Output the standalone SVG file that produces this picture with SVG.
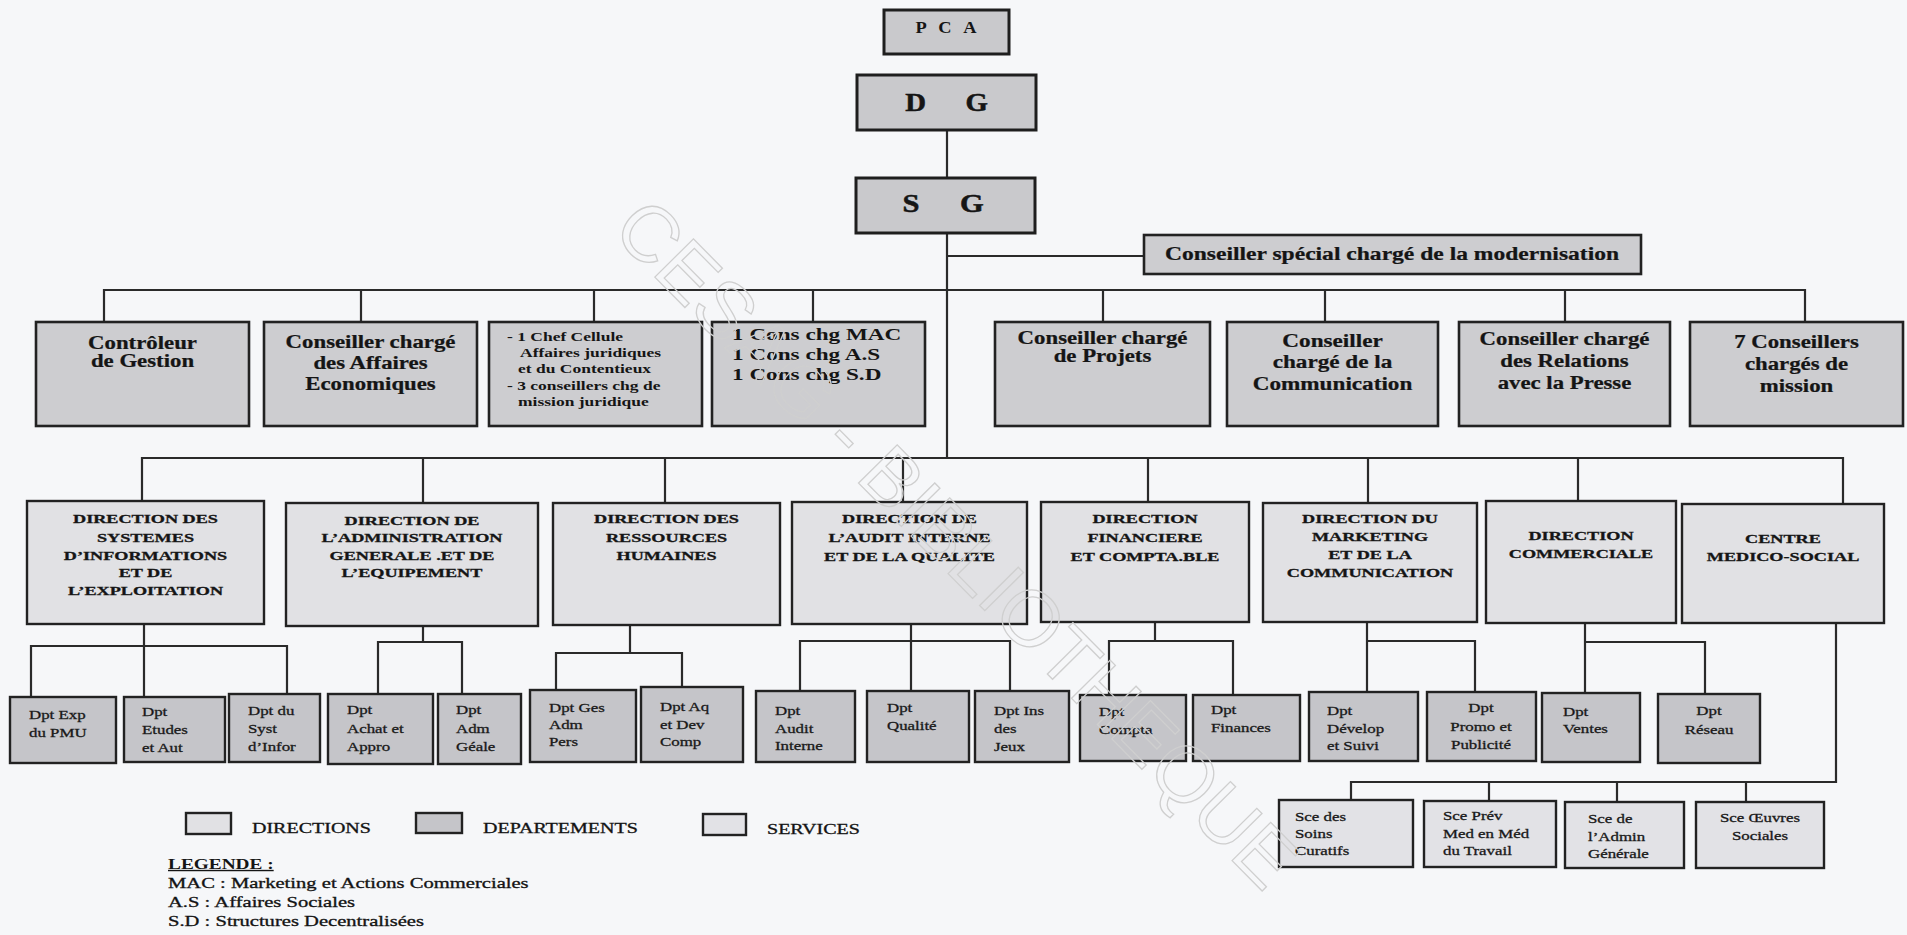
<svg xmlns="http://www.w3.org/2000/svg" width="1907" height="935" viewBox="0 0 1907 935">
<style>
.bg{fill:#f6f7f9}
.top{fill:#c9c9cc;stroke:#1e1e1e;stroke-width:3}
.con{fill:#cdcdd0;stroke:#222;stroke-width:2.6}
.dir{fill:#e1e1e4;stroke:#222;stroke-width:2.4}
.dpt{fill:#c5c5c9;stroke:#222;stroke-width:2.4}
.svc{fill:#e2e2e6;stroke:#222;stroke-width:2.4}
.lnk{fill:none;stroke:#2a2a2a;stroke-width:2.2}
text{font-family:"Liberation Serif","Times New Roman",serif;fill:#151515}
.b{font-weight:bold}
.m{text-anchor:middle}
.f24{font-size:25px;stroke:#151515;stroke-width:0.5}
.f19{font-size:19px;stroke:#151515;stroke-width:0.25}
.f16{font-size:16px}
.f13{font-size:13px;stroke:#151515;stroke-width:0.3}
.f125{font-size:12.5px}
.sm{font-size:12.5px;stroke:#222;stroke-width:0.3}
.lg{font-size:14.5px;stroke:#111;stroke-width:0.3}
.wm{font-family:"Liberation Sans",Arial,sans-serif;font-size:79px;fill:none;stroke:#cfcfcf;stroke-width:1.3}
</style>
<rect class="bg" x="0" y="0" width="1907" height="935"/>

<g id="connectors">
<path class="lnk" d="M947 130V178M947 233V458M947 256H1144"/>
<path class="lnk" d="M104 322V290H1805V322M361 290V322M594 290V322M813 290V322M1103 290V322M1325 290V322M1565 290V322"/>
<path class="lnk" d="M142 502V458H1843V504M423 458V503M665 458V503M903 458V502M1148 458V502M1368 458V503M1578 458V501"/>
<path class="lnk" d="M144 624V697M31 697V646H287V694"/>
<path class="lnk" d="M423 626V642M378 694V642H462V694"/>
<path class="lnk" d="M630 625V653M556 690V653H682V687"/>
<path class="lnk" d="M911 624V691M800 691V641H1010V691"/>
<path class="lnk" d="M1155 622V641M1109 695V641H1233V695"/>
<path class="lnk" d="M1367 622V692M1367 641H1475V692"/>
<path class="lnk" d="M1585 623V693M1585 642H1705V694"/>
<path class="lnk" d="M1836 623V782H1351V800M1489 782V801M1617 782V802M1746 782V802"/>
</g>

<g id="n-pca"><rect class="top" x="884" y="10" width="125" height="44"/>
<text class="b f16 m" transform="translate(948 0) scale(1.15 1)" letter-spacing="3.5"><tspan x="0" y="33">P C A</tspan></text></g>
<g id="n-dg"><rect class="top" x="857" y="75" width="179" height="55"/>
<text class="b f24 m" transform="translate(946.5 0) scale(1.15 1)" word-spacing="28"><tspan x="0" y="111">D G</tspan></text></g>
<g id="n-sg"><rect class="top" x="856" y="178" width="179" height="55"/>
<text class="b f24 m" transform="translate(943 0) scale(1.22 1)" word-spacing="27"><tspan x="0" y="212">S G</tspan></text></g>
<g id="n-special"><rect class="con" x="1144" y="235" width="497" height="39"/>
<text class="b f19 m" transform="translate(1392 0) scale(1.24 1)"><tspan x="0" y="260">Conseiller spécial chargé de la modernisation</tspan></text></g>

<g id="n-controleur"><rect class="con" x="36" y="322" width="213" height="104"/>
<text class="b f19 m" transform="translate(142.5 0) scale(1.2 1)"><tspan x="0" y="349">Contrôleur</tspan><tspan x="0" y="367">de Gestion</tspan></text></g>
<g id="n-affaires-eco"><rect class="con" x="264" y="322" width="213" height="104"/>
<text class="b f19 m" transform="translate(370.5 0) scale(1.2 1)"><tspan x="0" y="348">Conseiller chargé</tspan><tspan x="0" y="369">des Affaires</tspan><tspan x="0" y="390">Economiques</tspan></text></g>
<g id="n-juridique"><rect class="con" x="489" y="322" width="213" height="104"/>
<text class="b f125" transform="translate(507 0) scale(1.4 1)"><tspan x="0" y="341">- 1 Chef Cellule</tspan><tspan x="9.3" y="357">Affaires juridiques</tspan><tspan x="7.9" y="373">et du Contentieux</tspan><tspan x="0" y="390">- 3 conseillers chg de</tspan><tspan x="7.9" y="406">mission juridique</tspan></text></g>
<g id="n-cons-chg"><rect class="con" x="712" y="322" width="213" height="104"/>
<text class="b f16" transform="translate(732 0) scale(1.45 1)"><tspan x="0" y="340">1 Cons chg MAC</tspan><tspan x="0" y="360">1 Cons chg A.S</tspan><tspan x="0" y="380">1 Cons chg S.D</tspan></text></g>
<g id="n-projets"><rect class="con" x="995" y="322" width="215" height="104"/>
<text class="b f19 m" transform="translate(1102.5 0) scale(1.2 1)"><tspan x="0" y="344">Conseiller chargé</tspan><tspan x="0" y="362">de Projets</tspan></text></g>
<g id="n-communication"><rect class="con" x="1227" y="322" width="211" height="104"/>
<text class="b f19 m" transform="translate(1332.5 0) scale(1.22 1)"><tspan x="0" y="347">Conseiller</tspan><tspan x="0" y="368">chargé de la</tspan><tspan x="0" y="390">Communication</tspan></text></g>
<g id="n-presse"><rect class="con" x="1459" y="322" width="211" height="104"/>
<text class="b f19 m" transform="translate(1564.5 0) scale(1.2 1)"><tspan x="0" y="345">Conseiller chargé</tspan><tspan x="0" y="367">des Relations</tspan><tspan x="0" y="389">avec la Presse</tspan></text></g>
<g id="n-mission"><rect class="con" x="1690" y="322" width="213" height="104"/>
<text class="b f19 m" transform="translate(1796.5 0) scale(1.2 1)"><tspan x="0" y="348">7 Conseillers</tspan><tspan x="0" y="370">chargés de</tspan><tspan x="0" y="392">mission</tspan></text></g>

<g id="n-dsi"><rect class="dir" x="27" y="501" width="237" height="123"/>
<text class="b f13 m" transform="translate(145.5 0) scale(1.4 1)"><tspan x="0" y="523">DIRECTION DES</tspan><tspan x="0" y="542">SYSTEMES</tspan><tspan x="0" y="560">D’INFORMATIONS</tspan><tspan x="0" y="577">ET DE</tspan><tspan x="0" y="595">L’EXPLOITATION</tspan></text></g>
<g id="n-dage"><rect class="dir" x="286" y="503" width="252" height="123"/>
<text class="b f13 m" transform="translate(412 0) scale(1.4 1)"><tspan x="0" y="525">DIRECTION DE</tspan><tspan x="0" y="542">L’ADMINISTRATION</tspan><tspan x="0" y="560">GENERALE .ET DE</tspan><tspan x="0" y="577">L’EQUIPEMENT</tspan></text></g>
<g id="n-drh"><rect class="dir" x="553" y="503" width="227" height="122"/>
<text class="b f13 m" transform="translate(666.5 0) scale(1.4 1)"><tspan x="0" y="523">DIRECTION DES</tspan><tspan x="0" y="542">RESSOURCES</tspan><tspan x="0" y="560">HUMAINES</tspan></text></g>
<g id="n-daiq"><rect class="dir" x="792" y="502" width="235" height="122"/>
<text class="b f13 m" transform="translate(909.5 0) scale(1.4 1)"><tspan x="0" y="523">DIRECTION DE</tspan><tspan x="0" y="542">L’AUDIT INTERNE</tspan><tspan x="0" y="561">ET DE LA QUALITE</tspan></text></g>
<g id="n-dfc"><rect class="dir" x="1041" y="502" width="208" height="120"/>
<text class="b f13 m" transform="translate(1145 0) scale(1.4 1)"><tspan x="0" y="523">DIRECTION</tspan><tspan x="0" y="542">FINANCIERE</tspan><tspan x="0" y="561">ET COMPTA.BLE</tspan></text></g>
<g id="n-dmc"><rect class="dir" x="1263" y="503" width="214" height="119"/>
<text class="b f13 m" transform="translate(1370 0) scale(1.4 1)"><tspan x="0" y="523">DIRECTION DU</tspan><tspan x="0" y="541">MARKETING</tspan><tspan x="0" y="559">ET DE LA</tspan><tspan x="0" y="577">COMMUNICATION</tspan></text></g>
<g id="n-dc"><rect class="dir" x="1486" y="501" width="190" height="122"/>
<text class="b f13 m" transform="translate(1581 0) scale(1.4 1)"><tspan x="0" y="540">DIRECTION</tspan><tspan x="0" y="558">COMMERCIALE</tspan></text></g>
<g id="n-cms"><rect class="dir" x="1682" y="504" width="202" height="119"/>
<text class="b f13 m" transform="translate(1783 0) scale(1.4 1)"><tspan x="0" y="543">CENTRE</tspan><tspan x="0" y="561">MEDICO-SOCIAL</tspan></text></g>

<g id="d-exp-pmu"><rect class="dpt" x="10" y="697" width="106" height="66"/>
<text class="sm" transform="translate(29 0) scale(1.35 1)"><tspan x="0" y="719">Dpt Exp</tspan><tspan x="0" y="737">du PMU</tspan></text></g>
<g id="d-etudes"><rect class="dpt" x="124" y="697" width="101" height="65"/>
<text class="sm" transform="translate(142 0) scale(1.35 1)"><tspan x="0" y="716">Dpt</tspan><tspan x="0" y="734">Etudes</tspan><tspan x="0" y="752">et Aut</tspan></text></g>
<g id="d-syst-infor"><rect class="dpt" x="229" y="694" width="91" height="68"/>
<text class="sm" transform="translate(248 0) scale(1.35 1)"><tspan x="0" y="715">Dpt du</tspan><tspan x="0" y="733">Syst</tspan><tspan x="0" y="751">d’Infor</tspan></text></g>
<g id="d-achat"><rect class="dpt" x="328" y="694" width="105" height="70"/>
<text class="sm" transform="translate(347 0) scale(1.35 1)"><tspan x="0" y="714">Dpt</tspan><tspan x="0" y="733">Achat et</tspan><tspan x="0" y="751">Appro</tspan></text></g>
<g id="d-adm-geale"><rect class="dpt" x="438" y="694" width="83" height="70"/>
<text class="sm" transform="translate(456 0) scale(1.35 1)"><tspan x="0" y="714">Dpt</tspan><tspan x="0" y="733">Adm</tspan><tspan x="0" y="751">Géale</tspan></text></g>
<g id="d-ges-pers"><rect class="dpt" x="530" y="690" width="106" height="72"/>
<text class="sm" transform="translate(549 0) scale(1.35 1)"><tspan x="0" y="712">Dpt Ges</tspan><tspan x="0" y="729">Adm</tspan><tspan x="0" y="746">Pers</tspan></text></g>
<g id="d-aq-dev"><rect class="dpt" x="641" y="687" width="102" height="75"/>
<text class="sm" transform="translate(660 0) scale(1.35 1)"><tspan x="0" y="711">Dpt Aq</tspan><tspan x="0" y="729">et Dev</tspan><tspan x="0" y="746">Comp</tspan></text></g>
<g id="d-audit"><rect class="dpt" x="756" y="691" width="99" height="71"/>
<text class="sm" transform="translate(775 0) scale(1.35 1)"><tspan x="0" y="715">Dpt</tspan><tspan x="0" y="733">Audit</tspan><tspan x="0" y="750">Interne</tspan></text></g>
<g id="d-qualite"><rect class="dpt" x="867" y="691" width="102" height="71"/>
<text class="sm" transform="translate(887 0) scale(1.35 1)"><tspan x="0" y="712">Dpt</tspan><tspan x="0" y="730">Qualité</tspan></text></g>
<g id="d-ins-jeux"><rect class="dpt" x="975" y="691" width="94" height="71"/>
<text class="sm" transform="translate(994 0) scale(1.35 1)"><tspan x="0" y="715">Dpt Ins</tspan><tspan x="0" y="733">des</tspan><tspan x="0" y="751">Jeux</tspan></text></g>
<g id="d-compta"><rect class="dpt" x="1080" y="695" width="106" height="66"/>
<text class="sm" transform="translate(1099 0) scale(1.35 1)"><tspan x="0" y="716">Dpt</tspan><tspan x="0" y="734">Compta</tspan></text></g>
<g id="d-finances"><rect class="dpt" x="1193" y="695" width="107" height="66"/>
<text class="sm" transform="translate(1211 0) scale(1.35 1)"><tspan x="0" y="714">Dpt</tspan><tspan x="0" y="732">Finances</tspan></text></g>
<g id="d-develop"><rect class="dpt" x="1309" y="692" width="109" height="69"/>
<text class="sm" transform="translate(1327 0) scale(1.35 1)"><tspan x="0" y="715">Dpt</tspan><tspan x="0" y="733">Dévelop</tspan><tspan x="0" y="750">et Suivi</tspan></text></g>
<g id="d-promo"><rect class="dpt" x="1427" y="692" width="109" height="69"/>
<text class="sm m" transform="translate(1481 0) scale(1.35 1)"><tspan x="0" y="712">Dpt</tspan><tspan x="0" y="731">Promo et</tspan><tspan x="0" y="749">Publicité</tspan></text></g>
<g id="d-ventes"><rect class="dpt" x="1542" y="693" width="98" height="69"/>
<text class="sm" transform="translate(1563 0) scale(1.35 1)"><tspan x="0" y="716">Dpt</tspan><tspan x="0" y="733">Ventes</tspan></text></g>
<g id="d-reseau"><rect class="dpt" x="1658" y="694" width="102" height="69"/>
<text class="sm m" transform="translate(1709 0) scale(1.35 1)"><tspan x="0" y="715">Dpt</tspan><tspan x="0" y="734">Réseau</tspan></text></g>

<g id="s-soins"><rect class="svc" x="1279" y="800" width="134" height="67"/>
<text class="sm" transform="translate(1295 0) scale(1.35 1)"><tspan x="0" y="821">Sce des</tspan><tspan x="0" y="838">Soins</tspan><tspan x="0" y="855">Curatifs</tspan></text></g>
<g id="s-prev"><rect class="svc" x="1424" y="801" width="132" height="66"/>
<text class="sm" transform="translate(1443 0) scale(1.35 1)"><tspan x="0" y="820">Sce Prév</tspan><tspan x="0" y="838">Med en Méd</tspan><tspan x="0" y="855">du Travail</tspan></text></g>
<g id="s-admin"><rect class="svc" x="1565" y="802" width="119" height="66"/>
<text class="sm" transform="translate(1588 0) scale(1.35 1)"><tspan x="0" y="823">Sce de</tspan><tspan x="0" y="841">l’Admin</tspan><tspan x="0" y="858">Générale</tspan></text></g>
<g id="s-oeuvres"><rect class="svc" x="1696" y="802" width="128" height="66"/>
<text class="sm m" transform="translate(1760 0) scale(1.35 1)"><tspan x="0" y="822">Sce Œuvres</tspan><tspan x="0" y="840">Sociales</tspan></text></g>

<g id="legend">
<rect class="dir" x="186" y="813" width="45" height="21"/>
<rect class="dpt" x="416" y="813" width="46" height="20"/>
<rect class="svc" x="703" y="814" width="43" height="21"/>
<text class="lg" transform="translate(252 0) scale(1.38 1)"><tspan x="0" y="833">DIRECTIONS</tspan></text>
<text class="lg" transform="translate(483 0) scale(1.38 1)"><tspan x="0" y="833">DEPARTEMENTS</tspan></text>
<text class="lg" transform="translate(767 0) scale(1.38 1)"><tspan x="0" y="834">SERVICES</tspan></text>
<text class="b" font-size="14" text-decoration="underline" transform="translate(168 0) scale(1.38 1)"><tspan x="0" y="869">LEGENDE :</tspan></text>
<text class="lg" transform="translate(168 0) scale(1.42 1)"><tspan x="0" y="888">MAC : Marketing et Actions Commerciales</tspan><tspan x="0" y="907">A.S : Affaires Sociales</tspan><tspan x="0" y="926">S.D : Structures Decentralisées</tspan></text>
</g>

<g id="watermark">
<text class="wm" transform="translate(610 232) rotate(45.3)">CESAG - BIBLIOTHEQUE</text>
</g>
</svg>
